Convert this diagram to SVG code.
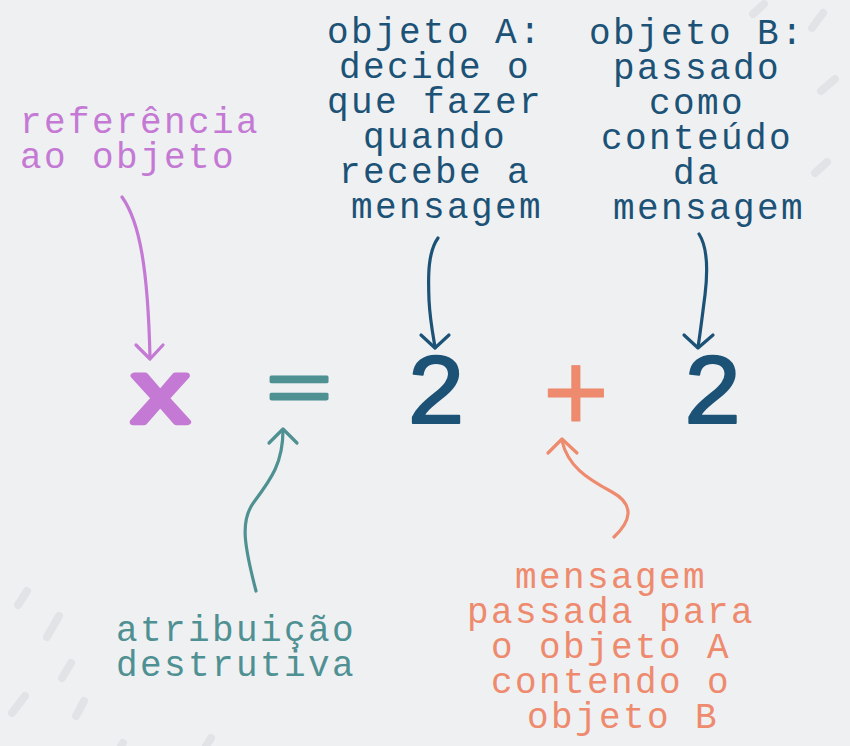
<svg xmlns="http://www.w3.org/2000/svg" width="850" height="746" viewBox="0 0 850 746">
  <defs>
    <style>
      .lbl { font-family: "Liberation Mono", "Courier New", monospace; font-size: 36px; letter-spacing: 2.4px; }
      .eq { font-family: "Liberation Mono", "Courier New", monospace; stroke-linejoin: round; stroke-linecap: round; }
      .purple { fill: #c47ad4; }
      .blue { fill: #1c5276; }
      .teal { fill: #4f9192; }
      .orange { fill: #ee8a6d; }
      .conn { fill: none; stroke-width: 3.2; stroke-linecap: round; stroke-linejoin: round; }
      .dash { stroke: #e2e3e6; stroke-width: 8; stroke-linecap: round; }
    </style>
  </defs>
  <rect width="850" height="746" fill="#eff0f2"/>
  <g id="background-dashes">
    <line class="dash" x1="27" y1="591" x2="18" y2="605"/>
    <line class="dash" x1="59" y1="616" x2="47" y2="637"/>
    <line class="dash" x1="71" y1="663" x2="62" y2="678"/>
    <line class="dash" x1="25" y1="696" x2="12" y2="713"/>
    <line class="dash" x1="84" y1="701" x2="76" y2="716"/>
    <line class="dash" x1="211" y1="738" x2="205" y2="748"/>
    <line class="dash" x1="123" y1="743" x2="119" y2="750"/>
    <line class="dash" x1="764" y1="4" x2="753" y2="14"/>
    <line class="dash" x1="823" y1="13" x2="812" y2="28"/>
    <line class="dash" x1="835" y1="79" x2="821" y2="91"/>
    <line class="dash" x1="827" y1="162" x2="815" y2="173"/>
  </g>

  <g id="connectors">
    <g id="arrow-ref" stroke="#c47ad4" class="conn">
      <path d="M122,197 C140,222 148,270 150,358"/>
      <path d="M136,345 L150,359 L163,345"/>
    </g>
    <g id="arrow-attr" stroke="#4f9192" class="conn">
      <path d="M256,591 C244,545 240,520 254,502 C272,478 283,462 283,430"/>
      <path d="M269,443 L283,429 L297,443"/>
    </g>
    <g id="arrow-objA" stroke="#1c5276" class="conn">
      <path d="M438,238 C428,252 428,275 429,300 C430,320 433,335 435,347"/>
      <path d="M421,335 L435,348 L449,335"/>
    </g>
    <g id="arrow-objB" stroke="#1c5276" class="conn">
      <path d="M699,234 C708,248 708,270 705,295 C702,318 700,335 698,347"/>
      <path d="M684,335 L698,348 L713,335"/>
    </g>
    <g id="arrow-msg" stroke="#ee8a6d" class="conn">
      <path d="M614,537 C630,522 636,505 612,492 C586,478 568,466 562,441"/>
      <path d="M548,453 L562,439 L577,453"/>
    </g>
  </g>

  <g id="node-x">
    <text class="eq purple" transform="translate(160.5,422) scale(1.2,1)" x="0" y="0" font-size="88" text-anchor="middle" stroke="#c47ad4" stroke-width="6.5">x</text>
  </g>
  <g id="node-equals">
    <text class="eq teal" transform="translate(299,390) scale(1,0.62)" x="0" y="0" font-size="112" text-anchor="middle" dy="0.3em" stroke="#4f9192" stroke-width="4.5">=</text>
  </g>
  <g id="node-2a">
    <text class="eq blue" x="436" y="423" font-size="101" text-anchor="middle" stroke="#1c5276" stroke-width="2">2</text>
  </g>
  <g id="node-plus">
    <text class="eq orange" x="576" y="431" font-size="114" text-anchor="middle" stroke="#ee8a6d" stroke-width="0.8">+</text>
  </g>
  <g id="node-2b">
    <text class="eq blue" x="712.5" y="423" font-size="101" text-anchor="middle" stroke="#1c5276" stroke-width="2">2</text>
  </g>

  <g id="label-ref">
    <text class="lbl purple" x="20" y="133">referência</text>
    <text class="lbl purple" x="20" y="168">ao objeto</text>
  </g>
  <g id="label-objA">
    <text class="lbl blue" text-anchor="middle">
      <tspan x="447" y="43">objeto A:</tspan>
      <tspan x="447" y="78">decide o</tspan>
      <tspan x="447" y="113">que fazer</tspan>
      <tspan x="447" y="148">quando</tspan>
      <tspan x="447" y="183">recebe a</tspan>
      <tspan x="447" y="218">mensagem</tspan>
    </text>
  </g>
  <g id="label-objB">
    <text class="lbl blue" text-anchor="middle">
      <tspan x="709" y="44">objeto B:</tspan>
      <tspan x="709" y="79">passado</tspan>
      <tspan x="709" y="114">como</tspan>
      <tspan x="709" y="149">conteúdo</tspan>
      <tspan x="709" y="184">da</tspan>
      <tspan x="709" y="219">mensagem</tspan>
    </text>
  </g>
  <g id="label-attr">
    <text class="lbl teal" x="116" y="641">atribuição</text>
    <text class="lbl teal" x="116" y="676">destrutiva</text>
  </g>
  <g id="label-msg">
    <text class="lbl orange" text-anchor="middle">
      <tspan x="623" y="588">mensagem</tspan>
      <tspan x="623" y="623">passada para</tspan>
      <tspan x="623" y="658">o objeto A</tspan>
      <tspan x="623" y="693">contendo o</tspan>
      <tspan x="623" y="728">objeto B</tspan>
    </text>
  </g>
</svg>
